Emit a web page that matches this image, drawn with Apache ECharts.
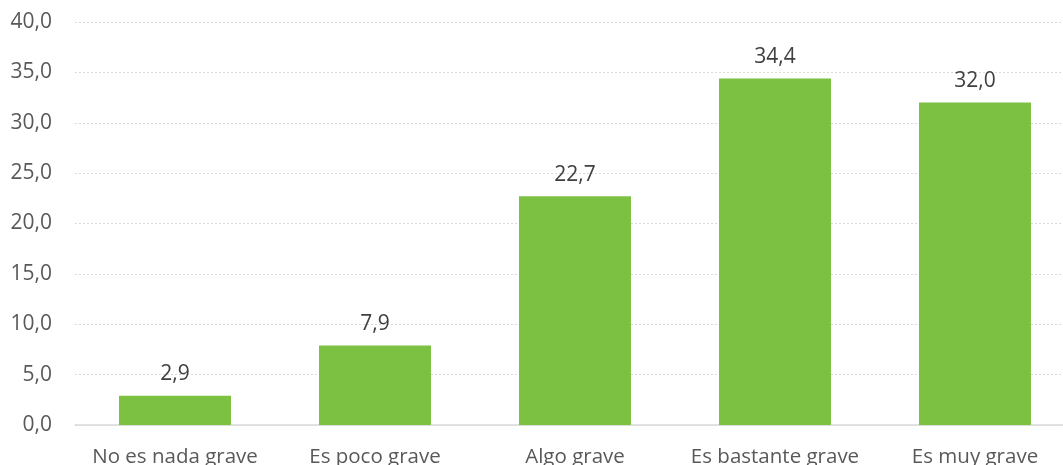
<!DOCTYPE html>
<html><head><meta charset="utf-8">
<script src="https://cdn.jsdelivr.net/npm/echarts@6/dist/echarts.min.js"></script>
<style>html,body{margin:0;padding:0;background:#fff}#c{width:1063px;height:465px}</style>
</head><body><div id="c"></div>
<script>
const categories = ["No es nada grave", "Es poco grave", "Algo grave", "Es bastante grave", "Es muy grave"];
const values = [2.9, 7.9, 22.7, 34.4, 32.0];
const yMin = 0, yMax = 40, yStep = 5;
const fmt = v => v.toFixed(1).replace('.', ',');
const chart = echarts.init(document.getElementById('c'), null, {renderer: 'canvas'});
chart.setOption({
  animation: false,
  grid: {left: 75, top: 22, width: 1000, height: 403, containLabel: false, outerBoundsMode: 'none'},
  xAxis: {
    type: 'category', data: categories,
    axisLine: {lineStyle: {color: '#D9D9D9', width: 1.5}},
    axisTick: {show: false},
    axisLabel: {color: '#595959', fontSize: 20.5, fontFamily: 'Open Sans', margin: 22, interval: 0, hideOverlap: false}
  },
  yAxis: {
    type: 'value', min: yMin, max: yMax, interval: yStep,
    axisLine: {show: false}, axisTick: {show: false},
    splitLine: {lineStyle: {color: '#D9D9D9', type: [2, 2], width: 1}},
    axisLabel: {color: '#595959', fontSize: 21, fontFamily: 'Open Sans', margin: 23, formatter: v => fmt(v)}
  },
  series: [{
    type: 'bar', data: values, barWidth: 112,
    itemStyle: {color: '#7DC142'},
    label: {show: true, position: 'top', distance: 11, color: '#404040', fontSize: 21, fontFamily: 'Open Sans', formatter: p => fmt(p.value)}
  }]
});
</script></body></html>
